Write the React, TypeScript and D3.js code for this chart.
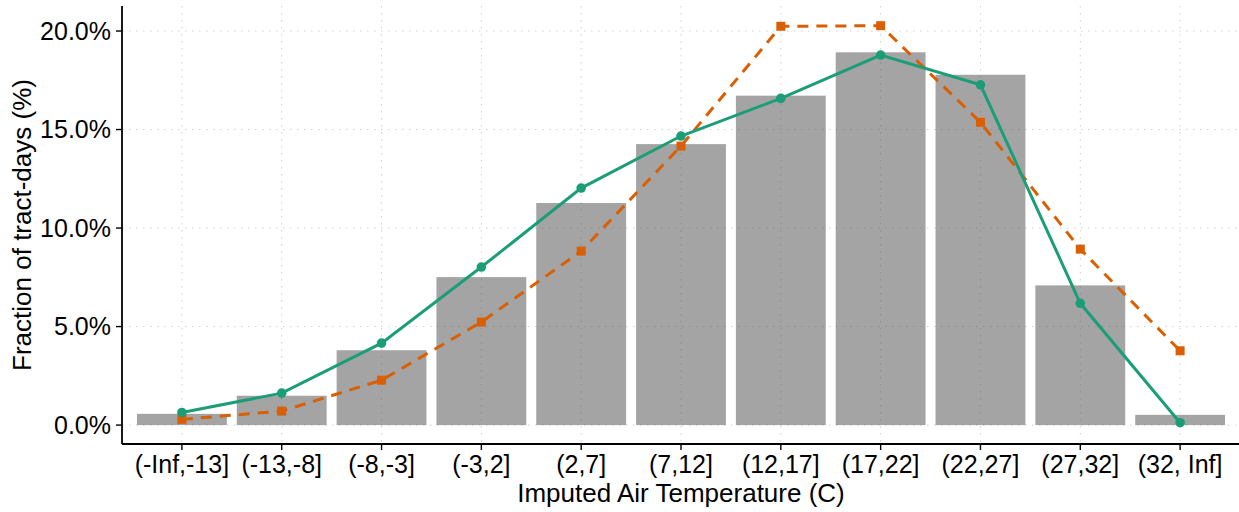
import React from "react";
import * as d3 from "d3";

const categories = ["(-Inf,-13]", "(-13,-8]", "(-8,-3]", "(-3,2]", "(2,7]", "(7,12]", "(12,17]", "(17,22]", "(22,27]", "(27,32]", "(32, Inf]"];
const barValues = [0.57, 1.49, 3.8, 7.51, 11.27, 14.26, 16.72, 18.92, 17.78, 7.09, 0.52];
const greenValues = [0.64, 1.62, 4.16, 8.02, 12.03, 14.67, 16.58, 18.78, 17.27, 6.18, 0.12];
const orangeValues = [0.29, 0.71, 2.28, 5.23, 8.83, 14.16, 20.24, 20.27, 15.37, 8.93, 3.77];
const yTicks = [0, 5, 10, 15, 20];

const W = 1239;
const H = 512;
const left = 122;
const right = 1240;
const top = 6;
const bottom = 444;
const FONT = "'Liberation Sans', Arial, Helvetica, sans-serif";

export default function App() {
  const n = categories.length;
  const x = d3.scaleLinear().domain([0.4, n + 0.6]).range([left, right]);
  const y = d3.scaleLinear().domain([-0.96, 21.27]).range([bottom, top]);
  const unit = x(2) - x(1);
  const bw = unit * 0.9;

  const line = d3.line<number>().x((_, i) => x(i + 1)).y((d) => y(d));

  return (
    <div style={{ position: "fixed", left: 0, top: 0, width: W, height: H, overflow: "hidden" }}>
      <svg width={W} height={H} style={{ display: "block", fontFamily: FONT }}>
        <rect width={W} height={H} fill="#fff" />
        {/* grid */}
        {yTicks.map((t) => (
          <line key={"gy" + t} x1={left} x2={right} y1={y(t)} y2={y(t)} stroke="#cfcfcf" strokeWidth={1} strokeDasharray="1.5,5.5" />
        ))}
        {categories.map((c, i) => (
          <line key={"gx" + c} x1={x(i + 1)} x2={x(i + 1)} y1={top} y2={bottom} stroke="#cfcfcf" strokeWidth={1} strokeDasharray="1.5,5.5" />
        ))}
        {/* bars */}
        {barValues.map((v, i) => (
          <rect key={"b" + i} x={x(i + 1) - bw / 2} y={y(v)} width={bw} height={y(0) - y(v)} fill="#4a4a4a" fillOpacity={0.5} />
        ))}
        {/* orange dashed */}
        <path d={line(orangeValues) || ""} fill="none" stroke="#D95F02" strokeWidth={3} strokeDasharray="11,8" />
        {orangeValues.map((v, i) => (
          <rect key={"o" + i} x={x(i + 1) - 4.5} y={y(v) - 4.5} width={9} height={9} fill="#D95F02" />
        ))}
        {/* green solid */}
        <path d={line(greenValues) || ""} fill="none" stroke="#1B9E77" strokeWidth={3} />
        {greenValues.map((v, i) => (
          <circle key={"g" + i} cx={x(i + 1)} cy={y(v)} r={4.8} fill="#1B9E77" />
        ))}
        {/* axes */}
        <line x1={left} x2={left} y1={top} y2={bottom} stroke="#000" strokeWidth={1.8} />
        <line x1={left} x2={right} y1={bottom} y2={bottom} stroke="#000" strokeWidth={1.8} />
        {yTicks.map((t) => (
          <g key={"yt" + t}>
            <line x1={left - 6} x2={left} y1={y(t)} y2={y(t)} stroke="#000" strokeWidth={1.4} />
            <text x={left - 11} y={y(t) + 8.5} textAnchor="end" fontSize={25} fill="#000">
              {t.toFixed(1) + "%"}
            </text>
          </g>
        ))}
        {categories.map((c, i) => (
          <g key={"xt" + c}>
            <line x1={x(i + 1)} x2={x(i + 1)} y1={bottom} y2={bottom + 6} stroke="#000" strokeWidth={1.4} />
            <text x={x(i + 1)} y={473} textAnchor="middle" fontSize={25} fill="#000">
              {c}
            </text>
          </g>
        ))}
        <text x={(left + right) / 2} y={502} textAnchor="middle" fontSize={26} fill="#000">
          Imputed Air Temperature (C)
        </text>
        <text transform={`translate(31, ${(top + bottom) / 2}) rotate(-90)`} textAnchor="middle" fontSize={26} fill="#000">
          Fraction of tract-days (%)
        </text>
      </svg>
    </div>
  );
}
